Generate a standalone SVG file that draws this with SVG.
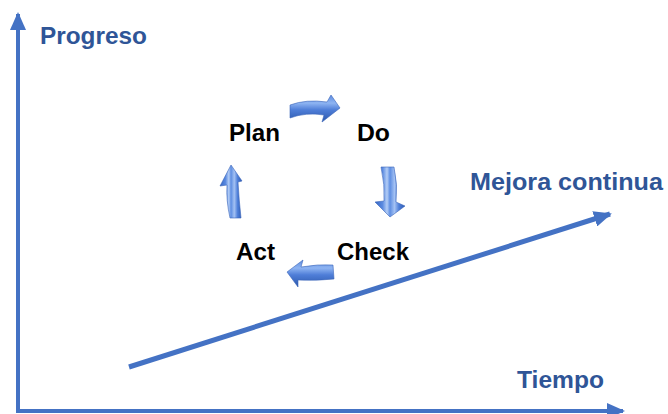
<svg xmlns="http://www.w3.org/2000/svg" width="668" height="414" viewBox="0 0 668 414">
  <style>
    .axis { stroke: #4472C4; stroke-width: 4; fill: none; }
    .trend { stroke: #4472C4; stroke-width: 5; fill: none; }
    .lbl-blue { font-family: "Liberation Sans", Arial, sans-serif; font-weight: bold; font-size: 24px; fill: #2F5597; }
    .lbl { font-family: "Liberation Sans", Arial, sans-serif; font-weight: bold; font-size: 24px; fill: #000000; }
    .cyc { stroke: #3A64B8; stroke-width: 0.6; }
  </style>
  <defs>
    <marker id="head" markerUnits="userSpaceOnUse" markerWidth="18" markerHeight="16" refX="16" refY="8" orient="auto">
      <path d="M0,0 L18,8 L0,16 Z" fill="#4472C4"/>
    </marker>
    <!-- bevelled fill for the horizontal cycle arrows -->
    <linearGradient id="gradH" x1="0" y1="0" x2="0" y2="1">
      <stop offset="0" stop-color="#5E8CE0"/>
      <stop offset="0.3" stop-color="#8EB4F2"/>
      <stop offset="0.55" stop-color="#4F7ED8"/>
      <stop offset="1" stop-color="#2B57AB"/>
    </linearGradient>
    <!-- bevelled fill for the vertical cycle arrows -->
    <linearGradient id="gradV" x1="0" y1="0" x2="1" y2="0">
      <stop offset="0" stop-color="#3566C4"/>
      <stop offset="0.25" stop-color="#5A8AE0"/>
      <stop offset="0.4" stop-color="#B3CDF6"/>
      <stop offset="0.5" stop-color="#5E8EE2"/>
      <stop offset="0.65" stop-color="#A3C1F3"/>
      <stop offset="0.8" stop-color="#4E7FD9"/>
      <stop offset="1" stop-color="#2D5AB2"/>
    </linearGradient>
  </defs>

  <!-- axes and trend -->
  <g id="connectors">
    <line class="axis" x1="18" y1="411" x2="18" y2="14" marker-end="url(#head)"/>
    <line class="axis" x1="16" y1="411" x2="623" y2="411" marker-end="url(#head)"/>
    <line class="trend" x1="129" y1="367" x2="610" y2="214" marker-end="url(#head)"/>
  </g>

  <g id="axis-labels">
    <text class="lbl-blue" x="40" y="44" textLength="107" lengthAdjust="spacingAndGlyphs">Progreso</text>
    <text class="lbl-blue" x="517" y="388" textLength="87" lengthAdjust="spacingAndGlyphs">Tiempo</text>
    <text class="lbl-blue" x="470" y="190" textLength="193" lengthAdjust="spacingAndGlyphs">Mejora continua</text>
  </g>

  <!-- PDCA cycle -->
  <g id="plan"><text class="lbl" x="229" y="141" textLength="51" lengthAdjust="spacingAndGlyphs">Plan</text></g>
  <g id="do"><text class="lbl" x="357" y="141" textLength="33" lengthAdjust="spacingAndGlyphs">Do</text></g>
  <g id="check"><text class="lbl" x="337" y="260" textLength="72" lengthAdjust="spacingAndGlyphs">Check</text></g>
  <g id="act"><text class="lbl" x="236" y="260" textLength="39" lengthAdjust="spacingAndGlyphs">Act</text></g>

  <g id="cycle-arrows">
    <!-- Plan to Do -->
    <path class="cyc" fill="url(#gradH)" d="M290,105 Q306,99 327,102 L331,95 L340,108 L322,122 L324,115 Q306,112 290,118 Z"/>
    <!-- Do to Check -->
    <path class="cyc" fill="url(#gradV)" d="M381,167 L394,167 Q398,185 396,202 L405,206 L390,217 L375,202 L384,201 Q385,185 381,167 Z"/>
    <!-- Check to Act -->
    <path class="cyc" fill="url(#gradH)" d="M333,265 L334,279 Q316,281 298,280 L298,287 L287,272 L303,260 L301,267 Q318,264 333,265 Z"/>
    <!-- Act to Plan -->
    <path class="cyc" fill="url(#gradV)" d="M231,165 L242,181 L238,182 Q239,200 241,218 L230,218 Q226,200 227,185 L220,186 Z"/>
  </g>
</svg>
